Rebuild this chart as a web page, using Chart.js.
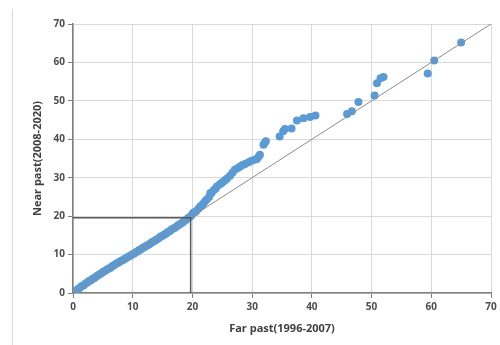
<!DOCTYPE html>
<html>
<head>
<meta charset="utf-8">
<script src="https://cdn.jsdelivr.net/npm/chart.js@4/dist/chart.umd.min.js"></script>
<style>
  html,body{margin:0;padding:0;background:#fff;}
  #wrap{position:relative;width:500px;height:345px;}
  #frame{position:absolute;left:12px;top:9px;width:1px;height:336px;background:#d9d9d9;}
  canvas{position:absolute;left:0;top:0;}
</style>
</head>
<body>
<div id="wrap"><div id="frame"></div><canvas id="c" width="500" height="345"></canvas></div>
<script>
// Far past (1996-2007) vs Near past (2008-2020)
const farPast = [0,0.2,0.4,0.6,0.9,1.2,1.5,1.8,2.1,2.4,2.7,3.0,3.3,3.6,3.9,4.2,4.5,4.8,5.1,5.4,5.7,6.0,6.3,6.6,6.9,7.2,7.5,7.8,8.1,8.4,8.7,9.0,9.3,9.6,9.9,
  10.2,10.5,10.8,11.1,11.4,11.7,12.0,12.3,12.6,12.9,13.2,13.5,13.8,14.1,14.4,14.7,15.0,15.3,15.6,15.9,16.2,16.5,16.8,17.1,17.4,17.7,18.0,18.3,18.6,18.9,19.2,19.5,19.8,
  20.1,20.4,20.6,21.0,21.3,21.6,21.8,22.1,22.4,22.8,23.0,23.2,23.6,23.9,24.1,24.6,24.9,25.2,25.5,25.8,26.3,26.7,27.1,27.6,28.0,28.4,28.8,29.4,29.9,30.4,30.8,31.1,31.3,31.9,32.1,32.3,
  34.6,35.2,35.5,36.6,37.5,38.6,39.7,40.6,45.9,46.7,47.8,50.5,50.9,51.5,52.0,59.4,60.5,65.0];
const nearPast = [0.1,0.0,0.5,0.7,1.1,1.4,1.8,2.0,2.5,2.7,3.1,3.3,3.7,3.9,4.3,4.6,4.9,5.2,5.5,5.8,6.1,6.4,6.6,7.0,7.2,7.6,7.8,8.1,8.4,8.6,8.9,9.2,9.5,9.7,10.0,
  10.2,10.6,10.8,11.2,11.4,11.8,12.0,12.3,12.5,12.8,13.2,13.4,13.7,14.0,14.3,14.7,14.9,15.2,15.5,15.9,16.1,16.5,16.8,17.0,17.4,17.7,18.0,18.3,18.7,19.0,19.4,19.7,20.1,
  20.8,21.0,21.3,21.9,22.5,22.8,23.2,23.8,24.3,25.0,26.0,26.0,26.8,27.2,27.7,28.3,28.6,29.0,29.4,29.8,30.5,31.3,32.1,32.5,32.9,33.3,33.6,34.0,34.4,34.7,34.9,35.5,36.0,38.6,39.1,39.5,
  40.7,42.1,42.7,42.8,44.9,45.5,45.8,46.2,46.6,47.3,49.7,51.4,54.6,55.9,56.2,57.1,60.5,65.2];
const axisTicks = [0,10,20,30,40,50,60,70];
const diagonal = [0,70];
const refX = [0,19.7,19.7];
const refY = [19.6,19.6,0];

const points = farPast.map((x,i)=>({x, y: nearPast[i]}));
const tickFont = {family:"'Open Sans', 'Noto Sans', sans-serif", size:10, weight:'bold'};
const titleFont = {family:"'Open Sans', 'Noto Sans', sans-serif", size:11, weight:'bold'};

function axis(title, isY){
  return {
    type:'linear', min:0, max:70,
    afterBuildTicks: s => { s.ticks = axisTicks.map(v=>({value:v})); },
    grid:{color:'#d9d9d9', lineWidth:1, tickColor:'#7f7f7f', tickLength:5},
    border:{color:'#7f7f7f', width:1.5},
    ticks:{color:'#4d4d4d', font:tickFont, padding:3, maxRotation:0},
    title:{display:true, text:title, color:'#404040', font:titleFont, padding: isY ? {top:0,bottom:6} : {top:4,bottom:0}},
    afterFit: s => { if(isY) s.width = 42; else s.height = 42; }
  };
}

new Chart(document.getElementById('c'), {
  type:'scatter',
  data:{datasets:[
    {type:'line', data: refX.map((x,i)=>({x, y: refY[i]})), borderColor:'#595959', borderWidth:1.5, pointRadius:0, fill:false, order:0},
    {type:'line', data: diagonal.map(v=>({x:v, y:v})), borderColor:'#8c8c8c', borderWidth:1, pointRadius:0, fill:false, order:1},
    {data: points, backgroundColor:'#5b9bd5', borderColor:'#5b9bd5', pointRadius:4, borderWidth:0, order:2}
  ]},
  options:{
    responsive:false, animation:false,
    layout:{padding:{left:31, top:24, right:9, bottom:10}},
    plugins:{legend:{display:false}, tooltip:{enabled:false}},
    scales:{
      x: axis('Far past(1996-2007)', false),
      y: axis('Near past(2008-2020)', true)
    }
  }
});
</script>
</body>
</html>
